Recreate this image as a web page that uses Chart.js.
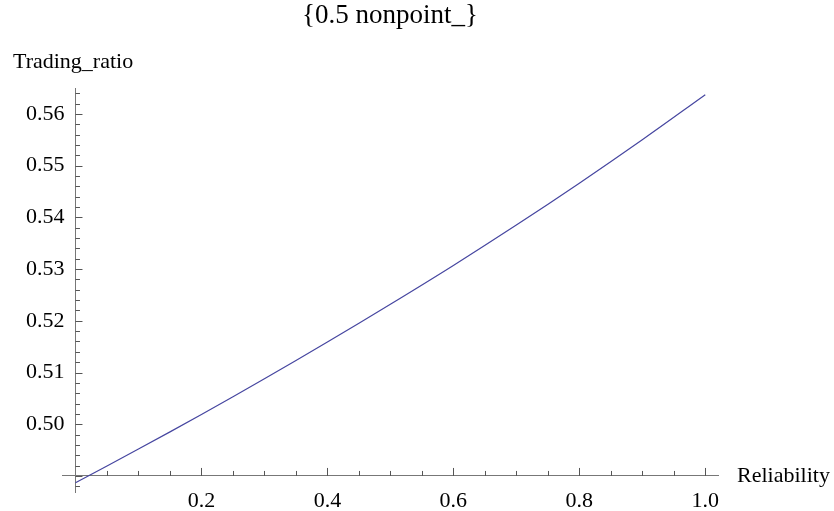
<!DOCTYPE html>
<html>
<head>
<meta charset="utf-8">
<script src="https://cdn.jsdelivr.net/npm/chart.js@4/dist/chart.umd.min.js"></script>
<style>
  html, body { margin: 0; padding: 0; background: #fff; }
  #wrap { width: 834px; height: 511px; }
</style>
</head>
<body>
<div id="wrap"><canvas id="myChart" width="834" height="511"></canvas></div>
<script>
var reliability = [0, 0.1, 0.2, 0.3, 0.4, 0.5, 0.6, 0.7, 0.8, 0.9, 1.0];
var tradingRatio = [0.4887, 0.4952, 0.5019, 0.5088, 0.5159, 0.5232, 0.5307, 0.5385, 0.5466, 0.5550, 0.5637];
var xTickLabels = ['0.2', '0.4', '0.6', '0.8', '1.0'];
var yTickLabels = ['0.50', '0.51', '0.52', '0.53', '0.54', '0.55', '0.56'];

var points = [];
for (var i = 0; i < reliability.length; i++) {
    points.push({x: reliability[i], y: tradingRatio[i]});
}

var serif = '"Liberation Serif", "Times New Roman", serif';

// inward tick marks like the original plot, plus the two axis names
var axisExtras = {
    id: 'axisExtras',
    afterDraw: function (chart) {
        var ctx = chart.ctx;
        var xs = chart.scales.x, ys = chart.scales.y;
        var x0 = xs.getPixelForValue(0);
        var y0 = ys.getPixelForValue(0.49);
        ctx.save();
        ctx.strokeStyle = '#555';
        ctx.lineWidth = 1;
        ctx.beginPath();
        for (var k = 244; k <= 282; k++) {
            var py = Math.round(ys.getPixelForValue(k / 500)) + 0.5;
            var len = (k % 5 === 0) ? 7 : 4.5;
            ctx.moveTo(x0, py);
            ctx.lineTo(x0 + len, py);
        }
        for (var j = 1; j <= 20; j++) {
            var px = Math.round(xs.getPixelForValue(j / 20)) + 0.5;
            var l2 = (j % 4 === 0) ? 8 : 5;
            ctx.moveTo(px, y0);
            ctx.lineTo(px, y0 - l2);
        }
        ctx.stroke();
        ctx.fillStyle = '#000';
        ctx.font = '22px ' + serif;
        ctx.textBaseline = 'alphabetic';
        ctx.textAlign = 'left';
        ctx.fillText('Trading_ratio', 13, 68);
        ctx.textBaseline = 'middle';
        ctx.fillText('Reliability', xs.right + 19, y0);
        ctx.restore();
    }
};

new Chart(document.getElementById('myChart'), {
    type: 'line',
    data: {
        datasets: [{
            label: 'Trading_ratio',
            data: points,
            borderColor: 'rgb(70,70,160)',
            borderWidth: 1.2,
            pointRadius: 0,
            fill: false,
            tension: 0.4
        }]
    },
    options: {
        responsive: false,
        animation: false,
        layout: {padding: {left: 62, right: 116, top: 0, bottom: 19}},
        plugins: {
            legend: {display: false},
            tooltip: {enabled: false},
            title: {
                display: true,
                text: '{0.5 nonpoint_}',
                fullSize: false,
                color: '#000',
                font: {family: serif, size: 27, weight: 'normal', lineHeight: 1.2},
                padding: {top: 0, bottom: 55.6}
            }
        },
        scales: {
            x: {
                type: 'linear',
                position: {y: 0.49},
                min: -0.0214,
                max: 1.0202,
                grid: {display: false, drawTicks: false},
                border: {display: true, color: '#777', width: 1},
                ticks: {
                    stepSize: 0.2,
                    includeBounds: false,
                    maxRotation: 0,
                    padding: 12,
                    color: '#000',
                    font: {family: serif, size: 22},
                    callback: function (v) {
                        var s = v.toFixed(1);
                        return xTickLabels.indexOf(s) >= 0 ? s : '';
                    }
                }
            },
            y: {
                type: 'linear',
                position: {x: 0},
                min: 0.4869,
                max: 0.5650,
                grid: {display: false, drawTicks: false},
                border: {display: true, color: '#777', width: 1},
                ticks: {
                    stepSize: 0.01,
                    includeBounds: false,
                    color: '#000',
                    font: {family: serif, size: 22},
                    callback: function (v) {
                        var s = v.toFixed(2);
                        // object-positioned axes ignore padding, so pad the label itself
                        return yTickLabels.indexOf(s) >= 0 ? s + '  ' : '';
                    }
                }
            }
        }
    },
    plugins: [axisExtras]
});
</script>
</body>
</html>
